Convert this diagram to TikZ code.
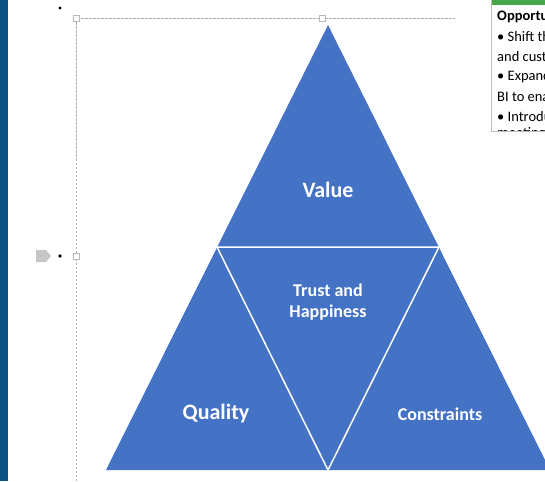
\documentclass[tikz,border=0pt]{standalone}
\usepackage{fontspec}
\setmainfont{Carlito}
\definecolor{tblue}{HTML}{4472C4}
\definecolor{sidebar}{HTML}{0B5380}
\definecolor{hgreen}{HTML}{47A84B}
\tikzset{
  handle/.style={draw=gray!55, fill=white, minimum size=6pt, inner sep=0pt},
  label/.style={text=white, font=\bfseries, align=center},
  boxline/.style={anchor=west, font=\fontsize{14.5}{16}\selectfont, inner sep=0pt}
}
\begin{document}
\begin{tikzpicture}[x=1pt, y=-1pt]
\useasboundingbox (0,0) rectangle (545,481);
\clip (0,0) rectangle (545,481);
%\tikzstyle{every node}=[draw];
\fill [sidebar] (0,0) rectangle (8,481);
% selection frame
\draw [gray!65, line width=0.8pt, dash pattern=on 2.5pt off 1.5pt] (76,481) -- (76,18) -- (455,18);
\node [handle] (h1) at (76,18) {};
\node [handle] (h2) at (322,18) {};
\node [handle] (h3) at (76,256) {};
\fill (60,8) circle (1.6);
\fill (60,256) circle (1.8);
\fill [gray!45] (36,250) -- (46,250) -- (51,256) -- (46,262) -- (36,262) -- cycle;
% pyramid
\coordinate (top) at (328,25);
\coordinate (ml) at (217,247);
\coordinate (mr) at (439,247);
\coordinate (bl) at (106,470);
\coordinate (bm) at (328,470);
\coordinate (br) at (550,470);
\fill [tblue] (top) -- (bl) -- (br) -- cycle;
\draw [white, line width=1.5pt, line join=miter] (ml) -- (mr) -- (bm) -- cycle;
\node [label, font=\bfseries\fontsize{22}{26}\selectfont] (v) at (328,190) {Value};
\node [label, font=\bfseries\fontsize{18}{21}\selectfont] (t) at (328,302) {Trust and\\Happiness};
\node [label, font=\bfseries\fontsize{22}{26}\selectfont] (q) at (216,414) {Quality};
\node [label, font=\bfseries\fontsize{18}{21}\selectfont] (c) at (440,414) {Constraints};
% side text box
\fill [white] (491,0) rectangle (545,131);
\fill [hgreen] (491,0) rectangle (545,5);
\draw [gray!50] (491,0) -- (491,131) -- (545,131);
\begin{scope}
\clip (492,5) rectangle (545,130.5);
\node [boxline, font=\bfseries\fontsize{14.5}{16}\selectfont] (o1) at (497,17) {Opportunities};
\node [boxline] (o2) at (497,37) {• Shift the};
\node [boxline] (o3) at (497,57) {and customers};
\node [boxline] (o4) at (497,77) {• Expand};
\node [boxline] (o5) at (497,97) {BI to enable};
\node [boxline] (o6) at (497,117) {• Introduce};
\node [boxline] (o7) at (497,134) {meetings};
\end{scope}
\end{tikzpicture}
\end{document}
